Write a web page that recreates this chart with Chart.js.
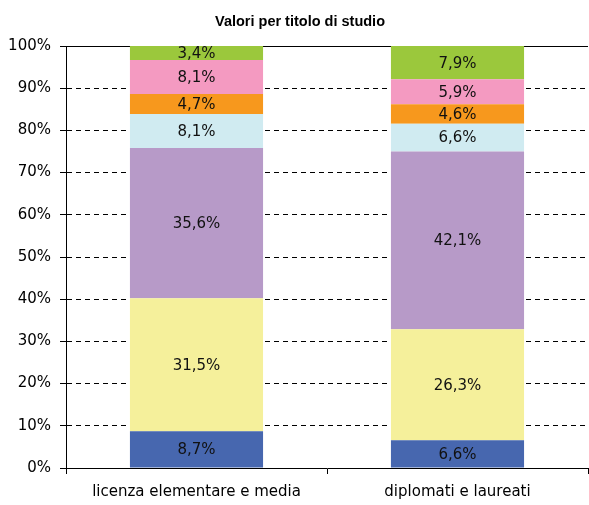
<!DOCTYPE html>
<html>
<head>
<meta charset="utf-8">
<script src="https://cdn.jsdelivr.net/npm/chart.js@4/dist/chart.umd.min.js"></script>
<style>
  html, body { margin: 0; padding: 0; background: #fff; }
  #wrap { width: 589px; height: 505px; }
</style>
</head>
<body>
<div id="wrap"><canvas id="c" width="589" height="505"></canvas></div>
<script>
// ── Data ──────────────────────────────────────────────
const categories = ["licenza elementare e media", "diplomati e laureati"];
const seriesColors = ["#4767AF", "#F5F09B", "#B79AC8", "#D0EBF1", "#F7981D", "#F49AC1", "#9BC83C"];
const s1 = [8.7, 6.6];
const s2 = [31.5, 26.3];
const s3 = [35.6, 42.1];
const s4 = [8.1, 6.6];
const s5 = [4.7, 4.6];
const s6 = [8.1, 5.9];
const s7 = [3.4, 7.9];
const series = [s1, s2, s3, s4, s5, s6, s7];
const yTicks = [0, 10, 20, 30, 40, 50, 60, 70, 80, 90, 100];
const titleText = "Valori per titolo di studio";

const FONT = "'DejaVu Sans', Verdana, sans-serif";
const TITLE_FONT = "'Liberation Sans', Arial, sans-serif";

// labels in the middle of each segment, comma decimals
const segLabels = {
  id: "segLabels",
  afterDatasetsDraw(chart) {
    const ctx = chart.ctx;
    ctx.save();
    ctx.font = "15px " + FONT;
    ctx.fillStyle = "#111";
    ctx.textAlign = "center";
    ctx.textBaseline = "middle";
    chart.data.datasets.forEach((ds, i) => {
      chart.getDatasetMeta(i).data.forEach((bar, j) => {
        const mid = (bar.y + bar.base) / 2;
        ctx.fillText(ds.data[j].toFixed(1).replace(".", ",") + "%", bar.x, mid + 1);
      });
    });
    ctx.restore();
  }
};

// solid line at the 100% level + title
const topLine = {
  id: "topLine",
  beforeDatasetsDraw(chart) {
    const { ctx, chartArea, scales } = chart;
    const y = Math.round(scales.y.getPixelForValue(100)) + 0.5;
    ctx.save();
    ctx.strokeStyle = "#000";
    ctx.lineWidth = 1;
    ctx.beginPath();
    ctx.moveTo(chartArea.left, y);
    ctx.lineTo(chartArea.right, y);
    ctx.stroke();
    ctx.font = "bold 14.5px " + TITLE_FONT;
    ctx.fillStyle = "#000";
    ctx.textAlign = "center";
    ctx.textBaseline = "alphabetic";
    ctx.fillText(titleText, 300, 26);
    ctx.restore();
  }
};

new Chart(document.getElementById("c").getContext("2d"), {
  type: "bar",
  data: {
    labels: categories,
    datasets: series.map((d, i) => ({
      data: d,
      backgroundColor: seriesColors[i],
      borderWidth: 0,
      categoryPercentage: 1,
      barPercentage: 0.51,
    })),
  },
  plugins: [segLabels, topLine],
  options: {
    responsive: false,
    animation: false,
    layout: { padding: { left: 0, right: 1, top: 46, bottom: 0 } },
    plugins: {
      legend: { display: false },
      tooltip: { enabled: false },
      title: { display: false },
    },
    scales: {
      x: {
        stacked: true,
        offset: true,
        grid: { display: true, offset: true, drawOnChartArea: false, color: "#000", tickLength: 6 },
        border: { color: "#000", width: 1 },
        ticks: { color: "#000", font: { family: FONT, size: 15 }, padding: 9, maxRotation: 0 },
        afterFit(scale) { scale.height = 37; },
      },
      y: {
        stacked: true,
        min: 0,
        max: 100,
        afterBuildTicks(scale) { scale.ticks = yTicks.map(v => ({ value: v })); },
        grid: { color: "#000", tickLength: 6, tickColor: "#000" },
        border: { color: "#000", width: 1, dash: [5, 4] },
        ticks: {
          color: "#000",
          font: { family: FONT, size: 15 },
          padding: 9,
          callback: v => v + "%",
        },
        afterFit(scale) { scale.width = 66; },
      },
    },
  },
});
</script>
</body>
</html>
